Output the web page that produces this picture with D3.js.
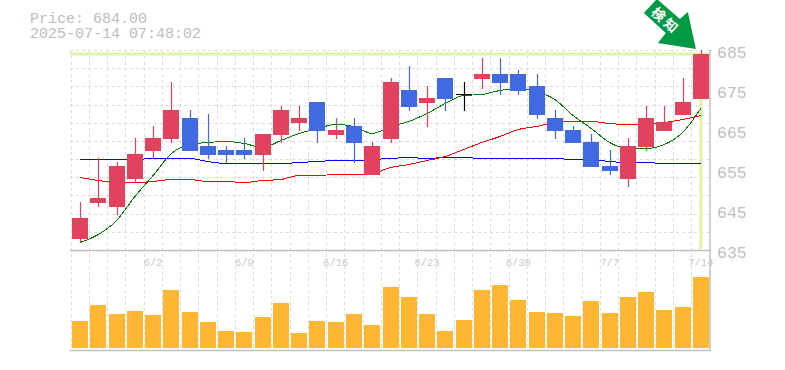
<!DOCTYPE html>
<html>
<head>
<meta charset="utf-8">
<script src="https://cdn.jsdelivr.net/npm/d3@7"></script>
<style>
html,body{margin:0;padding:0;background:#fff;}
svg{display:block;}
text{font-family:"Liberation Mono",monospace;}
</style>
</head>
<body>
<svg id="chart" width="785" height="370"></svg>
<script>
const dates = ["5/27","5/28","5/29","5/30","6/2","6/3","6/4","6/5","6/6","6/9","6/10","6/11","6/12","6/13","6/16","6/17","6/18","6/19","6/20","6/23","6/24","6/25","6/26","6/27","6/30","7/1","7/2","7/3","7/4","7/7","7/8","7/9","7/10","7/11","7/14"];
const dateTicks = ["6/2","6/9","6/16","6/23","6/30","7/7","7/14"];
const priceTicks = [685,675,665,655,645,635];
const opens  = [637.75,646.75,645.75,652.75,659.75,662.75,668,661,660,660,658.75,663.75,666.75,672,663.75,666,653.75,662.75,675,671.75,678,674,677.75,679,679,676,668,665,662,656,652.75,660.75,664.75,668.75,672.75];
const highs  = [647,658,657,663,666,677,670,669,661,663,664,671,671,672,668,668,662,678,681,676,678,677,683,683,680,679,670,666,664,660,663,671,671,678,685];
const lows   = [636.75,645.75,643.75,651.75,657.75,661.75,659.75,657.75,656.75,657.75,654.75,661.75,664.75,661.75,662.75,656.75,653.75,661.75,669.75,665.75,669.75,669.75,675.25,673.75,673.75,667.75,662.75,661.75,655.75,653.75,650.75,659.75,664.75,668.75,672.75];
const closes = [643,648,656,659,663,670,659.75,658.75,658.75,658.75,664,670,668,664.75,665,661.75,661,677,670.75,673,672.75,674,679,676.75,674.75,668.75,664.75,661.75,655.75,654.75,661,668,667,672,684];
const maShort = [637,639,642.5,648.5,653.75,659.25,661.5,662,662.25,661.75,660.75,662.5,664.25,665.5,666.5,666,664.25,666,667.25,669.25,671.75,673.75,674,675,675.5,674.75,672.75,668.75,665.5,662,660.5,660.5,661.5,664.5,670.5];
const maMid   = [653.25,652.5,652,652,652.25,652.75,652.75,652.25,652.25,652,652.5,652.75,653.75,653.75,654,654,654.25,655.75,656.5,657.5,658.5,660.25,662,663.5,665.25,666,667,667.25,667.25,666.75,666.5,666.5,667,667.75,668.75];
const maLong  = [657.75,657.75,657.75,657.75,658,658,658,657.25,656.75,656.75,656.75,656.75,657,657.25,657.5,657.5,657.75,658,658.25,658,658.25,658.25,658,658,658,658,658,657.75,657.75,657.25,657,657,656.75,656.75,656.75];
const volumes = [27,43,34,37,33,58,36,26,17,16,31,45,15,27,26,34,23,61,51,34,17,28,58,63,48,36,35,32,47,35,51,56,38,41,71];
const lastPrice = "684.00";
const timeStamp = "2025-07-14 07:48:02";
const arrowLabel = "検知";

const colUp="#e3425f", colDown="#4169e1", colGrid="#dcdcdc", colFrame="#c0c0c0", colHi="#e0f5a3", colVol="#ffb733", colArrow="#009944";
const plotL=71, plotR=710, plotT=50, plotM=250, plotB=350, volBase=348;

const svg=d3.select("#chart");
const x=d3.scaleBand().domain(dates).range([plotL,plotR]);
const cx=d=>x(d)+x.bandwidth()/2;
const y=d3.scaleLinear().domain([635,685]).range([plotM,plotT]);
const v=d3.scaleLinear().domain([0,71]).range([volBase,volBase-71]);
const barW=16;
const snap=n=>Math.round(n)+0.5;

// grid
const gGrid=svg.append("g").attr("stroke",colGrid).attr("stroke-dasharray","3 3").attr("stroke-width",1);
gGrid.selectAll("line.v").data(dates).join("line").attr("class","v")
  .attr("x1",d=>snap(x(d)-0.5)).attr("x2",d=>snap(x(d)-0.5)).attr("y1",plotT).attr("y2",plotB);
gGrid.selectAll("line.h").data(d3.range(0,11)).join("line").attr("class","h")
  .attr("x1",plotL-1).attr("x2",plotR)
  .attr("y1",i=>snap(plotT+i*(plotM-plotT)/11)).attr("y2",i=>snap(plotT+i*(plotM-plotT)/11));

// current price markers
const lastIdx=dates.length-1, lastDate=dates[lastIdx];
svg.append("line").attr("x1",plotL-1).attr("x2",plotR).attr("y1",y(+lastPrice)).attr("y2",y(+lastPrice))
  .attr("stroke",colHi).attr("stroke-width",3);
svg.append("line").attr("x1",cx(lastDate)).attr("x2",cx(lastDate)).attr("y1",plotT+3).attr("y2",plotM-1)
  .attr("stroke",colHi).attr("stroke-width",3);

// frame
const frame=svg.append("g").attr("stroke",colFrame).attr("stroke-width",1.5);
frame.append("line").attr("x1",plotL-1).attr("x2",plotR+1).attr("y1",plotM+0.5).attr("y2",plotM+0.5);
frame.append("line").attr("x1",plotL-1).attr("x2",plotR+1).attr("y1",plotB+0.5).attr("y2",plotB+0.5);
frame.append("line").attr("x1",plotR).attr("x2",plotR).attr("y1",plotT).attr("y2",plotB+1);

// moving averages (behind the candles)
const line=d3.line().x((d,i)=>cx(dates[i])).y(d=>y(d)).curve(d3.curveMonotoneX);
[[maLong,"#0000ff"],[maMid,"#ff0000"],[maShort,"#008000"]].forEach(([s,c])=>{
  svg.append("path").attr("d",line(s)).attr("fill","none").attr("stroke",c).attr("stroke-width",1)
    .attr("transform","translate(0,0.5)").attr("shape-rendering","crispEdges");
});

// candles
svg.append("g").selectAll("g").data(dates).join("g").each(function(d,i){
  const g=d3.select(this), o=opens[i], c=closes[i];
  const col=o===c?"#000":(c>o?colUp:colDown);
  const px=Math.round(cx(d));
  g.append("line").attr("x1",px+0.5).attr("x2",px+0.5).attr("y1",y(highs[i])).attr("y2",y(lows[i]))
    .attr("stroke",col).attr("stroke-width",1.2);
  if(o===c){
    g.append("line").attr("x1",px-8).attr("x2",px+8).attr("y1",y(o)+0.5).attr("y2",y(o)+0.5).attr("stroke",col);
  }else{
    g.append("rect").attr("x",px-barW/2).attr("width",barW)
      .attr("y",y(Math.max(o,c))).attr("height",y(Math.min(o,c))-y(Math.max(o,c))).attr("fill",col);
  }
});

// volume
svg.append("g").selectAll("rect").data(volumes).join("rect")
  .attr("x",(d,i)=>Math.round(cx(dates[i]))-barW/2).attr("width",barW)
  .attr("y",d=>v(d)).attr("height",d=>volBase-v(d)).attr("fill",colVol);

// price axis
const axR=svg.append("g").attr("transform",`translate(${plotR},2)`)
  .call(d3.axisRight(y).tickValues(priceTicks).tickSize(0).tickPadding(7));
axR.select(".domain").remove();
axR.selectAll("text").attr("fill","#c0c0c0").style("font-size","16.5px").style("font-family",'"Liberation Mono",monospace');

// date axis
const axB=svg.append("g").attr("transform",`translate(0,${plotM+2})`)
  .call(d3.axisBottom(x).tickValues(dateTicks).tickSize(0).tickPadding(7));
axB.select(".domain").remove();
axB.selectAll("text").attr("fill","#c8c8c8").style("font-size","10.5px").style("font-family",'"Liberation Mono",monospace');

// header
svg.append("text").attr("x",30).attr("y",23).attr("fill","#bdbdbd").style("font-size","15px").text("Price: "+lastPrice);
svg.append("text").attr("x",30).attr("y",38).attr("fill","#bdbdbd").style("font-size","15px").text(timeStamp);

// arrow annotation, anchored on the last candle's high
const arrow=svg.append("g").attr("transform",`translate(${cx(lastDate)-5},${y(highs[lastIdx])-1})`);
arrow.append("path").attr("fill",colArrow)
  .attr("d","M0,0 L-8,-37 L-16,-30 L-39,-50 L-52,-36 L-30,-16 L-38,-6 Z");
arrow.append("text").attr("transform","translate(-30,-28) rotate(42)")
  .attr("text-anchor","middle").attr("dy","0.36em").attr("fill","#fff")
  .style("font-family",'"Noto Sans CJK JP"').style("font-size","13.5px").style("font-weight","700")
  .style("letter-spacing","3px")
  .text(arrowLabel);
</script>
</body>
</html>
